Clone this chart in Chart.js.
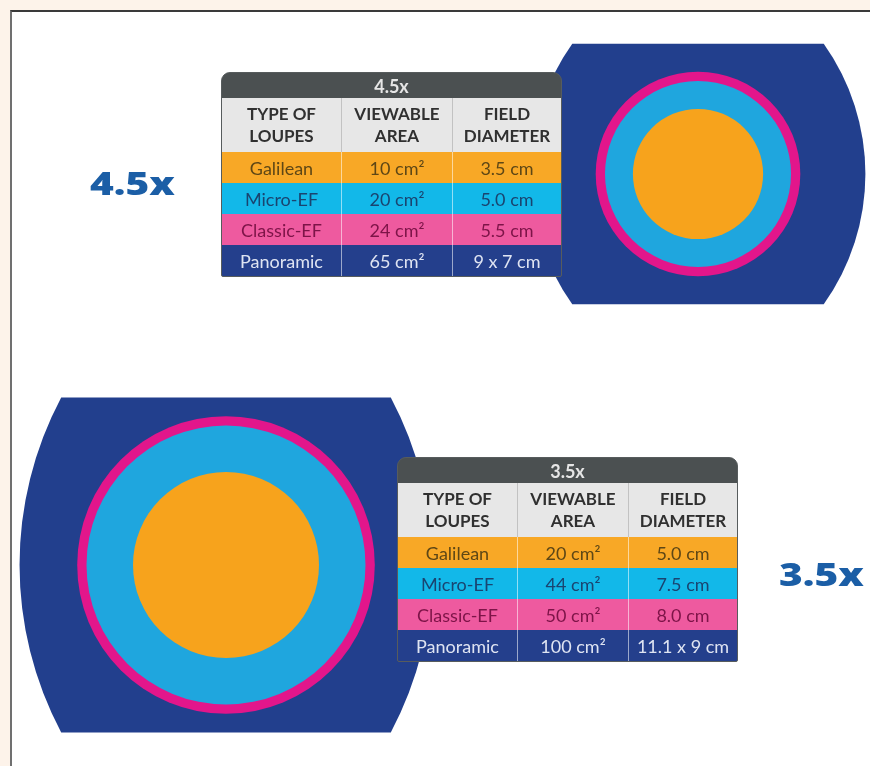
<!DOCTYPE html>
<html>
<head>
<meta charset="utf-8">
<script src="https://cdn.jsdelivr.net/npm/chart.js@4.4.1/dist/chart.umd.min.js"></script>
<style>
  html, body { margin: 0; padding: 0; }
  body { width: 870px; height: 766px; overflow: hidden; position: relative; background: #fdf3ea; font-family: Lato, 'Open Sans', sans-serif; }
  #frame { position: absolute; left: 10px; top: 10px; width: 880px; height: 780px; background: #fff;
    border-left: 2px solid #707070; border-top: 2px solid #3a3a3a; }
  #chart { position: absolute; left: 0; top: 0; }
  .mag { position: absolute; color: #1b5ea6; font: 800 32px/32px 'Open Sans', sans-serif;
    transform: scaleX(1.27); transform-origin: left top; white-space: nowrap; }
  .tbl { position: absolute; width: 341px; box-sizing: border-box; border: 1.5px solid #575c5d;
    border-radius: 9px 9px 2px 2px; overflow: hidden; background: #575c5d; }
  .row { display: flex; }
  .cell { box-sizing: border-box; display: flex; align-items: center; justify-content: center; text-align: center; white-space: nowrap; }
  .c0 { width: 119px; } .c1 { width: 111px; } .c2 { flex: 1; }
  .title { height: 25px; background: #4b5051; color: #e6e6e6; font-weight: 700; font-size: 18px; justify-content: center; }
  .head .cell { height: 54px; background: #e7e7e7; color: #303030; font-weight: 700; font-size: 17px; line-height: 22px; }
  .head .c1, .head .c2 { border-left: 1px solid #c2c2c2; }
  .body .cell { height: 31px; font-size: 18px; }
  .body .c1, .body .c2 { border-left: 1px solid rgba(255,255,255,0.55); }
</style>
</head>
<body>
<div id="frame"></div>
<canvas id="chart" width="870" height="766"></canvas>
<div id="overlay"></div>
<script>
// magnification panels
var MAGNIFICATIONS = ['4.5x', '3.5x'];
var LOUPE_TYPES = ['Galilean', 'Micro-EF', 'Classic-EF', 'Panoramic'];
var HEADERS = ['TYPE OF<br>LOUPES', 'VIEWABLE<br>AREA', 'FIELD<br>DIAMETER'];

// viewable area, cm²
var AREA_45X = [10, 20, 24, 65];
var AREA_35X = [20, 44, 50, 100];

// field diameter, cm (round fields)
var DIAM_45X = [3.5, 5.0, 5.5];
var DIAM_35X = [5.0, 7.5, 8.0];

// panoramic field, width x height in cm
var PANO_45X = [9, 7];
var PANO_35X = [11.1, 9];

// layout
var PX_PER_CM = 37.2;
var CANVAS_W = 870, CANVAS_H = 766;
var CENTER_PX = [[698, 174], [226, 565]];
var TABLE_POS = [[221, 72], [397, 457]];
var LABEL_POS = [[90, 167], [779, 558]];
var SIDE_INSET_CM = 1.12;

var FIELD_COLORS = ['#f7a31c', '#1fa6de', '#e2168b', '#223f8d'];
var ROW_COLORS = ['#f8a826', '#12b8e9', '#ee5a9f', '#243f8c'];
var ROW_TEXT = ['#5e4716', '#1a4470', '#7d1448', '#dfe4f2'];

var areas = [AREA_45X, AREA_35X];
var diams = [DIAM_45X, DIAM_35X];
var panos = [PANO_45X, PANO_35X];

function cm(px) { return px / PX_PER_CM; }

function fieldText(p, i) {
  if (i < 3) return diams[p][i].toFixed(1) + ' cm';
  return panos[p][0] + ' x ' + panos[p][1] + ' cm';
}

// tables + big labels as html text
var overlay = document.getElementById('overlay');
MAGNIFICATIONS.forEach(function (mag, p) {
  var lab = document.createElement('div');
  lab.className = 'mag';
  lab.style.left = LABEL_POS[p][0] + 'px';
  lab.style.top = LABEL_POS[p][1] + 'px';
  lab.textContent = mag;
  overlay.appendChild(lab);

  var html = '<div class="row"><div class="cell title" style="width:100%">' + mag + '</div></div>';
  html += '<div class="row head">' + HEADERS.map(function (h, c) {
    return '<div class="cell c' + c + '">' + h + '</div>';
  }).join('') + '</div>';
  LOUPE_TYPES.forEach(function (t, i) {
    var st = 'background:' + ROW_COLORS[i] + ';color:' + ROW_TEXT[i];
    html += '<div class="row body">' +
      '<div class="cell c0" style="' + st + '">' + t + '</div>' +
      '<div class="cell c1" style="' + st + '">' + areas[p][i] + ' cm²</div>' +
      '<div class="cell c2" style="' + st + '">' + fieldText(p, i) + '</div></div>';
  });
  var tbl = document.createElement('div');
  tbl.className = 'tbl';
  tbl.style.left = TABLE_POS[p][0] + 'px';
  tbl.style.top = TABLE_POS[p][1] + 'px';
  tbl.innerHTML = html;
  overlay.appendChild(tbl);
});

// panoramic field: wide band with arced sides, drawn under the round fields
var panoramicPlugin = {
  id: 'panoramic',
  beforeDatasetsDraw: function (chart) {
    var ctx = chart.ctx, xs = chart.scales.x, ys = chart.scales.y;
    var unit = xs.getPixelForValue(1) - xs.getPixelForValue(0);
    panos.forEach(function (dim, p) {
      var cx = xs.getPixelForValue(cm(CENTER_PX[p][0]));
      var cy = ys.getPixelForValue(cm(CENTER_PX[p][1]));
      var hw = dim[0] / 2 * unit, hh = dim[1] / 2 * unit, s = SIDE_INSET_CM * unit;
      var r = (hh * hh + s * s) / (2 * s);
      var a = Math.asin(hh / r);
      ctx.save();
      ctx.fillStyle = FIELD_COLORS[3];
      ctx.beginPath();
      ctx.moveTo(cx - hw + s, cy - hh);
      ctx.lineTo(cx + hw - s, cy - hh);
      ctx.arc(cx + hw - r, cy, r, -a, a, false);
      ctx.lineTo(cx - hw + s, cy + hh);
      ctx.arc(cx - hw + r, cy, r, Math.PI - a, Math.PI + a, false);
      ctx.closePath();
      ctx.fill();
      ctx.restore();
    });
  }
};

function fieldRadius(ctx) {
  var xs = ctx.chart.scales.x;
  if (!xs || !ctx.raw) return 0;
  return xs.getPixelForValue(ctx.raw.d / 2) - xs.getPixelForValue(0);
}

var datasets = LOUPE_TYPES.slice(0, 3).map(function (t, i) {
  return {
    label: t,
    data: diams.map(function (d, p) {
      return { x: cm(CENTER_PX[p][0]), y: cm(CENTER_PX[p][1]), d: d[i] };
    }),
    backgroundColor: FIELD_COLORS[i],
    borderWidth: 0,
    pointRadius: fieldRadius,
    pointHoverRadius: fieldRadius,
  };
});

new Chart(document.getElementById('chart'), {
  type: 'scatter',
  data: { datasets: datasets },
  options: {
    responsive: false,
    animation: false,
    events: [],
    layout: { padding: 0 },
    plugins: { legend: { display: false }, tooltip: { enabled: false } },
    scales: {
      x: { type: 'linear', display: false, min: 0, max: cm(CANVAS_W) },
      y: { type: 'linear', display: false, min: 0, max: cm(CANVAS_H), reverse: true },
    },
  },
  plugins: [panoramicPlugin],
});
</script>
</body>
</html>
